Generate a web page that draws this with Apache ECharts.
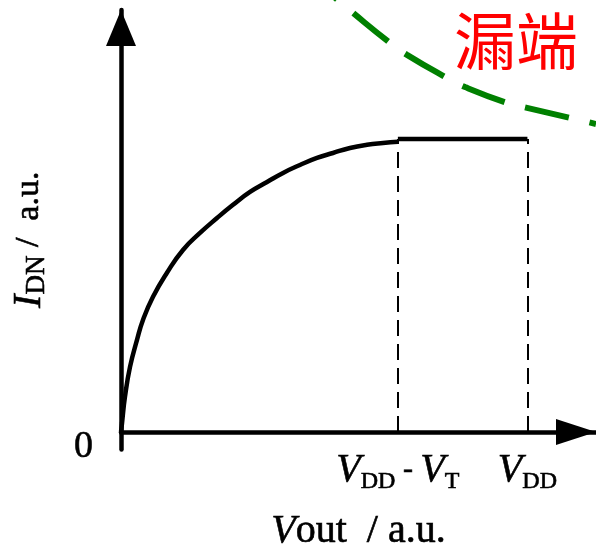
<!DOCTYPE html>
<html>
<head>
<meta charset="utf-8">
<script src="https://cdn.jsdelivr.net/npm/echarts@6/dist/echarts.min.js"></script>
<style>
  html, body { margin: 0; padding: 0; background: #fff; }
  #chart { width: 596px; height: 555px; }
</style>
</head>
<body>
<div id="chart"></div>
<script>
// Output current vs. output voltage (arbitrary units)
const curveX = [0, 0.008, 0.031, 0.071, 0.126, 0.173, 0.252, 0.362, 0.488, 0.622, 0.756,
                0.882, 1.016, 1.150, 1.276, 1.409, 1.543, 1.669, 1.803, 1.937, 2.063, 2.18];
const curveY = [0, 0.03, 0.119, 0.222, 0.314, 0.382, 0.461, 0.543, 0.621, 0.679, 0.730,
                0.775, 0.819, 0.853, 0.884, 0.911, 0.935, 0.952, 0.969, 0.980, 0.986, 0.99];
// Saturation plateau from VDD - VT up to VDD
const plateauX = [2.18, 3.2];
const plateauY = [1.0, 1.0];
// Tick positions on the voltage axis: VDD - VT and VDD
const tickValues = [2.18, 3.2];
// Dashed arc marking the drain side
const drainX = [1.661, 1.827, 2.118, 2.252, 2.567, 2.709, 3.039, 3.197, 3.535, 3.74];
const drainY = [1.491, 1.430, 1.328, 1.287, 1.208, 1.177, 1.123, 1.106, 1.072, 1.051];

const serif = 'Liberation Serif';
const ink = { color: '#000', textBorderColor: '#000', textBorderWidth: 0.6 };
const zip = (xs, ys) => xs.map((x, i) => [x, ys[i]]);
const withInk = (o) => Object.assign({ fontFamily: serif }, ink, o);

const chart = echarts.init(document.getElementById('chart'), null, { renderer: 'canvas' });

chart.setOption({
  animation: false,
  backgroundColor: '#ffffff',
  title: {
    text: '漏端',
    left: 454,
    top: 10,
    padding: 0,
    textStyle: { fontFamily: 'Noto Sans CJK SC', fontSize: 62, fontWeight: 'normal', color: '#ff0000', lineHeight: 62 }
  },
  grid: { left: 121, right: 0, top: 10, bottom: 105.5, containLabel: false, outerBoundsMode: 'none' },
  xAxis: {
    type: 'value',
    min: 0,
    max: 3.74,
    splitLine: { show: false },
    axisTick: { show: false },
    axisLine: {
      onZero: true,
      lineStyle: { color: '#000', width: 4.5 },
      symbol: ['none', 'triangle'],
      symbolSize: [26, 40],
      symbolOffset: [0, -20]
    },
    axisLabel: {
      customValues: tickValues,
      margin: -2,
      formatter: function (v) {
        if (Math.abs(v - tickValues[0]) < 1e-6) return '{v|V}{s|DD}{h| - }{v|V}{s|T}';
        if (Math.abs(v - tickValues[1]) < 1e-6) return '{v|V}{s|DD}';
        return '';
      },
      rich: {
        v: withInk({ fontStyle: 'italic', fontSize: 40, lineHeight: 46 }),
        s: withInk({ fontSize: 24, lineHeight: 24, padding: [22, 0, 0, 0] }),
        h: withInk({ fontSize: 30, lineHeight: 46 })
      }
    },
    name: '{v|V}{n|out  / a.u.}',
    nameLocation: 'middle',
    nameGap: 60,
    nameTextStyle: {
      rich: {
        v: withInk({ fontStyle: 'italic', fontSize: 40, lineHeight: 44 }),
        n: withInk({ fontSize: 40, lineHeight: 44 })
      }
    }
  },
  yAxis: {
    type: 'value',
    min: -0.06,
    max: 1.44,
    splitLine: { show: false },
    axisTick: { show: false },
    axisLine: {
      onZero: true,
      lineStyle: { color: '#000', width: 4.5 },
      symbol: ['none', 'triangle'],
      symbolSize: [30, 36],
      symbolOffset: [0, -18]
    },
    axisLabel: {
      customValues: [0],
      margin: 28,
      formatter: function () { return '{z|0}'; },
      rich: {
        z: withInk({ fontSize: 38, lineHeight: 38, padding: [30, 0, 0, 0] })
      }
    },
    name: '{i|I}{s|DN}{n| /  a.u.}',
    nameLocation: 'middle',
    nameGap: 70,
    nameTextStyle: {
      rich: {
        i: withInk({ fontStyle: 'italic', fontSize: 40, lineHeight: 44 }),
        s: withInk({ fontSize: 27, lineHeight: 27, padding: [16, 0, 0, 0] }),
        n: withInk({ fontSize: 34, lineHeight: 44, padding: [0, 20, 0, 0] })
      }
    }
  },
  series: [
    {
      name: 'rise',
      type: 'line',
      data: zip(curveX, curveY),
      smooth: 0.5,
      symbol: 'none',
      lineStyle: { color: '#000', width: 4.5 },
      z: 3
    },
    {
      name: 'plateau',
      type: 'line',
      data: zip(plateauX, plateauY),
      symbol: 'none',
      lineStyle: { color: '#000', width: 4.5 },
      z: 3,
      markLine: {
        silent: true,
        symbol: ['none', 'none'],
        label: { show: false },
        lineStyle: { color: '#000', width: 2, type: [16, 8] },
        data: tickValues.map(function (x) {
          return [{ coord: [x, 0] }, { coord: [x, plateauY[0]] }];
        })
      }
    },
    {
      name: 'drain',
      type: 'line',
      data: zip(drainX, drainY),
      smooth: true,
      clip: false,
      symbol: 'none',
      lineStyle: { color: '#008000', width: 6, type: [45, 21], dashOffset: 38 },
      z: 2
    }
  ]
});
</script>
</body>
</html>
